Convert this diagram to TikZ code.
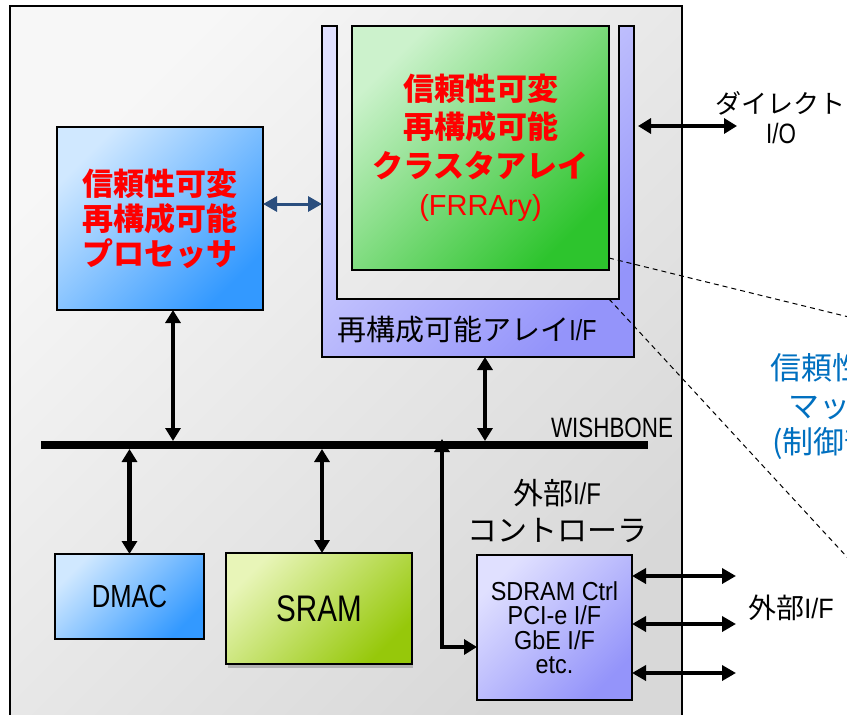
\documentclass[tikz,border=0pt]{standalone}
\usepackage{fontspec}
\setmainfont{Noto Sans CJK JP}
\newfontfamily\latn[FakeStretch=0.8]{Liberation Sans}
\newfontfamily\latw[FakeStretch=0.9]{Liberation Sans}
\newfontfamily\latr{Liberation Sans}
\usetikzlibrary{arrows.meta,calc}
\definecolor{jred}{HTML}{FF0000}
\definecolor{jblue}{HTML}{0070C0}
\definecolor{darr}{HTML}{2A4E7E}
\definecolor{chipA}{HTML}{F7F7F7}
\definecolor{chipB}{HTML}{D8D8D8}
\definecolor{bluA}{HTML}{D0E8FF}
\definecolor{bluB}{HTML}{3399FF}
\definecolor{grnA}{HTML}{CCF2CC}
\definecolor{grnB}{HTML}{2DC42D}
\definecolor{lavA}{HTML}{E0E0FF}
\definecolor{lavB}{HTML}{9494FA}
\definecolor{srmA}{HTML}{E8F5B8}
\definecolor{srmB}{HTML}{96C80A}
\tikzset{
  blk/.style={draw=black, line width=1.5pt, inner sep=0pt, outer sep=0pt},
  chipshade/.style={top color=chipA, bottom color=chipB, shading angle=45},
  blueshade/.style={top color=bluA, bottom color=bluB, shading angle=45},
  grnshade/.style={top color=grnA, bottom color=grnB, shading angle=45},
  lavshade/.style={top color=lavA, bottom color=lavB, shading angle=45},
  srmshade/.style={top color=srmA, bottom color=srmB, shading angle=45},
  arr/.style={draw=black, line width=4.5pt, >={Triangle[length=13pt,width=15pt]}, <->},
  thinarr/.style={draw=black, line width=3.5pt, >={Triangle[length=14pt,width=15pt]}, <->},
  bluearr/.style={draw=darr, line width=3pt, >={Triangle[length=14pt,width=15pt]}, <->},
  zoomline/.style={draw=black, line width=1pt, dash pattern=on 5pt off 4pt},
  lbl/.style={inner sep=0pt, outer sep=0pt}
}
\begin{document}
\begin{tikzpicture}[x=1pt,y=-1pt]
\useasboundingbox (0,0) rectangle (847,715);
\clip (0,0) rectangle (847,715);
\fill[white] (0,0) rectangle (847,715);

% chip outline
\node[blk, chipshade, minimum width=672pt, minimum height=724pt] (chip) at (346,368) {};

% reconfigurable array I/F (U shape)
\path[draw=black, line width=1.5pt, lavshade]
  (322,26) -- (337,26) -- (337,299) -- (619,299) -- (619,26) -- (634,26)
  -- (634,357) -- (322,357) -- cycle;
\node[lbl, minimum width=312pt, minimum height=331pt] (aif) at (478,191.5) {};
\node[lbl, font=\fontsize{29}{29}\selectfont] (aiflbl) at (467,330) {再構成可能アレイ{\latn I/F}};

% FRRAry
\node[blk, line width=2pt, grnshade, minimum width=257pt, minimum height=244pt,
      align=center, text=jred, font=\bfseries\fontsize{31}{38.5}\selectfont] (grn) at (480.5,148)
  {信頼性可変\\再構成可能\\クラスタアレイ\\{\mdseries\latr\fontsize{29}{38.5}\selectfont (FRRAry)}};

% processor
\node[blk, line width=2pt, blueshade, minimum width=206pt, minimum height=183pt,
      align=center, text=jred, font=\bfseries\fontsize{31}{35}\selectfont] (proc) at (160,218.5)
  {信頼性可変\\再構成可能\\プロセッサ};

% DMAC, SRAM, external I/F controller
\node[blk, blueshade, minimum width=149pt, minimum height=85pt,
      font=\latn\fontsize{32}{32}\selectfont] (dmac) at (129.5,596.5) {DMAC};
\fill[gray!60] (228,664) rectangle (413,668);
\node[blk, srmshade, minimum width=186pt, minimum height=111pt,
      font=\latn\fontsize{37}{37}\selectfont] (sram) at (319,608.5) {SRAM};
\node[blk, lavshade, minimum width=155pt, minimum height=145pt, align=center,
      font=\latw\fontsize{26}{24.5}\selectfont] (ext) at (554.5,627.5)
  {SDRAM Ctrl\\PCI-e I/F\\GbE I/F\\etc.};
\node[lbl, align=center, font=\fontsize{30}{37}\selectfont] (extlbl) at (557,511)
  {外部{\latn I/F}\\コントローラ};

% bus
\node[lbl, minimum width=607pt, minimum height=8pt] (bus) at (344.5,445) {};
\node[lbl, anchor=base east, font=\latn\fontsize{28}{28}\selectfont] (wb) at (673,437) {WISHBONE};

% helper coordinates
\coordinate (px) at (173,0);
\coordinate (sx) at (322,0);
\coordinate (ax) at (485,0);
\coordinate (ex) at (442,0);
\coordinate (ec) at (442,647);
\coordinate (by) at (0,204);
\coordinate (dio) at (737,126);
\coordinate (x1) at (736,576);
\coordinate (x2) at (736,624);
\coordinate (x3) at (736,673);

% connectors
\draw[bluearr] (proc.east |- by) -- (aif.west |- by);
\draw[arr] (proc.south -| px) -- (bus.north -| px);
\draw[arr] (aif.south -| ax) -- (bus.north -| ax);
\draw[arr] (bus.south -| dmac.north) -- (dmac.north);
\draw[arr] (bus.south -| sx) -- (sram.north -| sx);
\draw[arr, shorten <=-2pt] (bus.north -| ex) -- (ec) -- (ext.west |- ec);
\fill[black] (bus.north west) rectangle (bus.south east);
\draw[arr, line width=4pt, shorten <=4pt] (aif.east |- dio) -- (dio);
\draw[thinarr] (ext.east |- x1) -- (x1);
\draw[thinarr] (ext.east |- x2) -- (x2);
\draw[thinarr] (ext.east |- x3) -- (x3);

% outside labels
\node[lbl, font=\fontsize{26}{26}\selectfont] (dlbl) at (780,103) {ダイレクト};
\node[lbl, font=\latn\fontsize{28}{28}\selectfont] (iolbl) at (781,133) {I/O};
\node[lbl, font=\fontsize{28}{28}\selectfont] (xlbl) at (791,608) {外部{\latw I/F}};

% zoom lines
\coordinate (d1a) at (609,258);
\coordinate (d1b) at (900,329.6);
\coordinate (d2a) at (609,299);
\coordinate (d2b) at (900,614.5);
\draw[zoomline] (d1a) -- (d1b);
\draw[zoomline] (d2a) -- (d2b);

% blue text (cut off at right edge)
\node[lbl, anchor=west, text=jblue, font=\fontsize{31}{31}\selectfont] (bt1) at (770,368) {信頼性可変};
\node[lbl, anchor=west, text=jblue, font=\fontsize{31}{31}\selectfont] (bt2) at (788,406) {マッピング};
\node[lbl, anchor=west, text=jblue, font=\fontsize{31}{31}\selectfont] (bt3) at (772,443) {(制御部)};
\end{tikzpicture}
\end{document}
